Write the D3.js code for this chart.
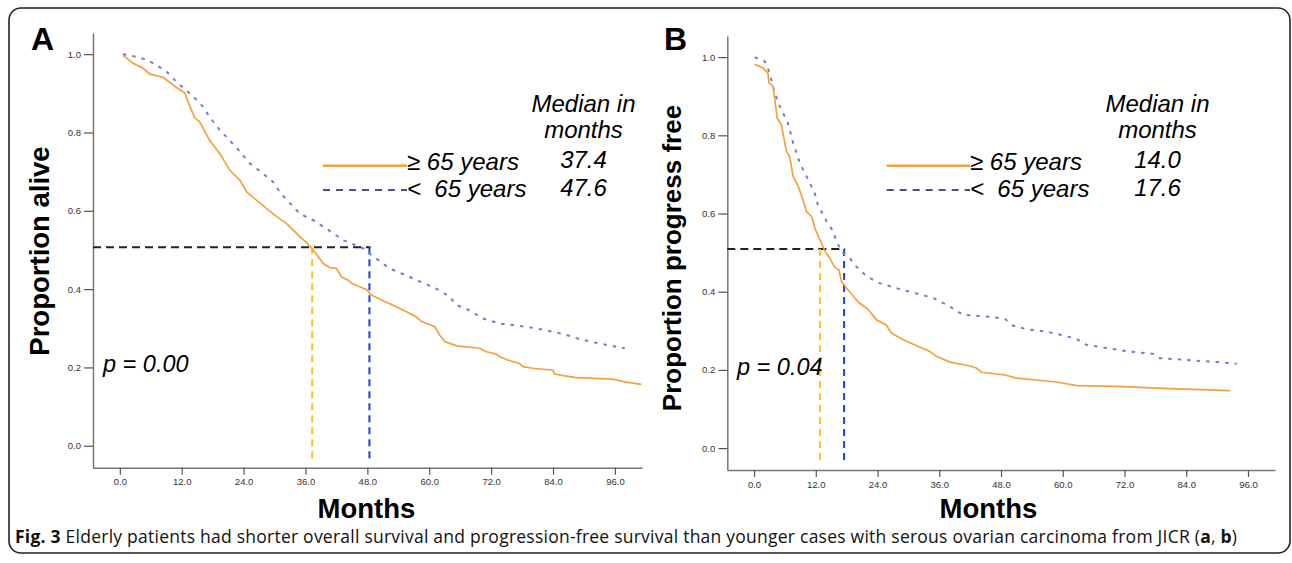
<!DOCTYPE html>
<meta charset="utf-8">
<script src="https://d3js.org/d3.v7.min.js"></script>
<style>
  body { margin: 0; background: #fff; }
  text { font-family: "Liberation Sans", Arial, sans-serif; }
</style>
<div id="chart"></div>
<script>
// ---- data ----
var monthTicks = [0, 12, 24, 36, 48, 60, 72, 84, 96];
var propTicks = [0, 0.2, 0.4, 0.6, 0.8, 1.0];

// panel A: overall survival, [month, proportion]
var osOld = [[0.6,0.997],[1.3,0.99],[2.6,0.977],[4.5,0.964],[5.8,0.949],[8.4,0.941],[11,0.915],[12.6,0.901],
  [13.6,0.866],[14.5,0.838],[15.5,0.827],[17.4,0.78],[19.4,0.746],[21.3,0.704],[23.3,0.678],[24.6,0.648],
  [26.5,0.627],[28.4,0.606],[30.4,0.585],[32.3,0.568],[34.9,0.534],[36.2,0.519],[37.5,0.5],[39.4,0.466],
  [40.7,0.455],[42,0.453],[43,0.431],[44.3,0.423],[44.9,0.415],[46.5,0.406],[47.8,0.399],[48.8,0.385],
  [50.4,0.374],[53,0.359],[55.6,0.342],[57.5,0.329],[58.5,0.317],[59.8,0.311],[61.1,0.304],[62,0.283],
  [63,0.266],[65.3,0.255],[69.8,0.249],[71.1,0.24],[73,0.234],[73.7,0.227],[75.6,0.217],[77.5,0.21],
  [78.2,0.202],[80.1,0.198],[84,0.193],[84.3,0.183],[86.6,0.178],[88.5,0.174],[95.6,0.17],[97.9,0.163],[101.1,0.157]];
var osYoung = [[0.6,1.0],[3.2,0.993],[5.2,0.986],[7.1,0.972],[9.1,0.955],[11,0.929],[13.2,0.904],[14.9,0.883],
  [16.1,0.866],[17.4,0.84],[19.4,0.806],[21.3,0.78],[23.3,0.751],[25.2,0.721],[27.8,0.695],[29.7,0.674],
  [31,0.648],[33,0.619],[34.9,0.593],[37.5,0.576],[40,0.555],[43.3,0.525],[47.2,0.504],[48.8,0.487],
  [52.3,0.453],[56.2,0.431],[59.8,0.41],[62,0.397],[64,0.38],[65.3,0.359],[67.2,0.35],[70.4,0.325],
  [73.7,0.312],[78.8,0.304],[82.7,0.295],[86.6,0.283],[89.2,0.272],[93,0.261],[97.9,0.249]];

// panel B: progression-free survival
var pfsOld = [[0.1,0.982],[1.75,0.972],[2.7,0.959],[2.9,0.934],[3.7,0.925],[4.0,0.895],[4.5,0.844],[5.3,0.827],
  [6.3,0.759],[6.9,0.746],[7.6,0.695],[8.6,0.669],[9.5,0.635],[10.2,0.605],[11.2,0.592],[11.8,0.563],
  [13.1,0.524],[13.8,0.503],[14.7,0.486],[15.7,0.462],[16.5,0.456],[17,0.426],[18,0.409],[19.6,0.384],
  [20.5,0.371],[22.2,0.354],[23.8,0.328],[25.7,0.315],[26.7,0.294],[29,0.277],[31.6,0.262],[34.2,0.247],
  [35.5,0.234],[38.1,0.22],[42,0.21],[43.2,0.205],[44.2,0.194],[48.8,0.187],[51,0.179],[58.8,0.169],
  [62.7,0.16],[70.5,0.158],[79.5,0.153],[92.5,0.147]];
var pfsYoung = [[0.1,1.0],[2.1,0.989],[3.05,0.959],[4.0,0.908],[5.0,0.874],[6.6,0.831],[7.6,0.78],[8.9,0.729],
  [10.2,0.695],[11.8,0.652],[12.4,0.622],[14.1,0.58],[15.4,0.554],[16,0.528],[17.3,0.499],[18.6,0.486],
  [19.9,0.464],[21.9,0.439],[24.4,0.422],[27.7,0.409],[32.5,0.392],[34.8,0.384],[37.4,0.367],[40.6,0.341],
  [46.5,0.335],[48.8,0.33],[50.4,0.313],[53,0.304],[56.9,0.298],[59.5,0.29],[62.7,0.279],[64.6,0.264],
  [68.5,0.256],[73,0.247],[77.6,0.241],[78.9,0.23],[83.4,0.226],[89.9,0.22],[93.8,0.216]];

var groupLabels = ["\u2265 65 years", "<  65 years"];
var mediansA = ["37.4", "47.6"];
var mediansB = ["14.0", "17.6"];
// where the median guide lines sit in the figure (months) and the 50% level
var medianLinesA = [37.3, 48.4];
var medianLinesB = [12.8, 17.5];
var halfLevelA = 0.507, halfLevelB = 0.509;

var W = 1292, H = 563;
var svg = d3.select("#chart").append("svg").attr("width", W).attr("height", H);

// outer frame
svg.append("rect").attr("x", 9).attr("y", 8).attr("width", 1281).attr("height", 545)
  .attr("rx", 12).attr("fill", "none").attr("stroke", "#222").attr("stroke-width", 1.6);

var orange = "#f5a03c", dotBlue = "#6a7fd6";

function panel(o) {
  var x = d3.scaleLinear().domain([-5.2, 101.25]).range([o.x0, o.x1]);
  var y = d3.scaleLinear().domain([-0.056, 1.054]).range([o.y1, o.y0]);
  var g = svg.append("g");

  var xa = g.append("g").attr("transform", "translate(0," + o.y1 + ")")
    .call(d3.axisBottom(x).tickValues(monthTicks).tickFormat(d3.format(".1f")).tickSize(7).tickSizeOuter(0));
  var ya = g.append("g").attr("transform", "translate(" + o.x0 + ",0)")
    .call(d3.axisLeft(y).tickValues(propTicks).tickFormat(d3.format(".1f")).tickSize(9).tickSizeOuter(0));
  [xa, ya].forEach(function (a) {
    a.select(".domain").attr("stroke", "#777").attr("stroke-width", 1.5);
    a.selectAll(".tick line").attr("stroke", "#555").attr("stroke-width", 1.2);
    a.selectAll(".tick text").attr("fill", "#333").style("font-size", "9.5px")
      .style("font-family", "'Liberation Sans', Arial, sans-serif");
  });
  xa.selectAll(".tick text").attr("y", 11);
  ya.selectAll(".tick text").attr("x", -12);

  var line = d3.line().x(function (d) { return x(d[0]); }).y(function (d) { return y(d[1]); });

  // median guides
  g.append("line").attr("x1", o.x0).attr("x2", x(o.medLines[1]) + 1)
    .attr("y1", y(o.half)).attr("y2", y(o.half))
    .attr("stroke", "#222").attr("stroke-width", 2).attr("stroke-dasharray", "8,5");
  g.append("line").attr("x1", x(o.medLines[0])).attr("x2", x(o.medLines[0]))
    .attr("y1", y(o.half)).attr("y2", y(-0.037))
    .attr("stroke", "#ffc20e").attr("stroke-width", 2).attr("stroke-dasharray", "7,5");
  g.append("line").attr("x1", x(o.medLines[1])).attr("x2", x(o.medLines[1]))
    .attr("y1", y(o.half)).attr("y2", y(-0.037))
    .attr("stroke", "#1f3de0").attr("stroke-width", 2).attr("stroke-dasharray", "7,5");

  g.append("path").datum(o.young).attr("d", line).attr("fill", "none")
    .attr("stroke", dotBlue).attr("stroke-width", 2).attr("stroke-dasharray", "3.5,6");
  g.append("path").datum(o.old).attr("d", line).attr("fill", "none")
    .attr("stroke", orange).attr("stroke-width", 1.7);

  // panel letter
  g.append("text").attr("x", o.letterX).attr("y", 50).text(o.letter)
    .style("font-size", "32px").style("font-weight", "bold");

  // axis titles
  g.append("text").attr("transform", "translate(" + o.ytX + "," + o.ytY + ") rotate(-90)")
    .attr("text-anchor", "middle").text(o.yTitle)
    .style("font-size", o.ytSize).style("font-weight", "bold");
  g.append("text").attr("x", o.mX).attr("y", 518).attr("text-anchor", "middle").text("Months")
    .style("font-size", "27.5px").style("font-weight", "bold");

  // legend
  g.append("line").attr("x1", o.lx0).attr("x2", o.lx1).attr("y1", 165.7).attr("y2", 165.7)
    .attr("stroke", orange).attr("stroke-width", 2.5);
  g.append("line").attr("x1", o.lx0).attr("x2", o.lx1).attr("y1", 190).attr("y2", 190)
    .attr("stroke", "#4b5089").attr("stroke-width", 2).attr("stroke-dasharray", "7,6");
  g.selectAll(".lab").data(groupLabels).enter().append("text")
    .attr("x", o.lx1).attr("y", function (d, i) { return i ? 197 : 170; })
    .attr("xml:space", "preserve").text(function (d) { return d; })
    .style("font-size", "24px").style("font-style", "italic");
  g.append("text").attr("x", o.medX).attr("y", 112).attr("text-anchor", "middle").text("Median in")
    .style("font-size", "24px").style("font-style", "italic");
  g.append("text").attr("x", o.medX).attr("y", 138).attr("text-anchor", "middle").text("months")
    .style("font-size", "24px").style("font-style", "italic");
  g.selectAll(".med").data(o.medians).enter().append("text")
    .attr("x", o.medX).attr("y", function (d, i) { return i ? 196 : 168; })
    .attr("text-anchor", "middle").text(function (d) { return d; })
    .style("font-size", "24px").style("font-style", "italic");

  g.append("text").attr("x", o.pX).attr("y", o.pY).attr("xml:space", "preserve").text(o.pText)
    .style("font-size", "23.5px").style("font-style", "italic");
}

panel({ x0: 93, x1: 642, y0: 33, y1: 467.7, old: osOld, young: osYoung,
  medLines: medianLinesA, half: halfLevelA, letter: "A", letterX: 31,
  yTitle: "Proportion alive", ytX: 49, ytY: 251, ytSize: "27.5px", mX: 366.5,
  lx0: 323, lx1: 407, medX: 583.5, medians: mediansA, pText: "p = 0.00", pX: 103, pY: 372 });

panel({ x0: 727.3, x1: 1275, y0: 36, y1: 470, old: pfsOld, young: pfsYoung,
  medLines: medianLinesB, half: halfLevelB, letter: "B", letterX: 664,
  yTitle: "Proportion progress free", ytX: 681, ytY: 258, ytSize: "26px", mX: 988.5,
  lx0: 886.7, lx1: 970, medX: 1157.5, medians: mediansB, pText: "p = 0.04", pX: 737, pY: 375 });

// caption
var cap = svg.append("text").attr("x", 15).attr("y", 543)
  .attr("textLength", 1222).attr("lengthAdjust", "spacing")
  .style("font-family", "'Open Sans', sans-serif").style("font-size", "17.5px").attr("fill", "#111");
cap.append("tspan").style("font-weight", "bold").text("Fig. 3");
cap.append("tspan").text(" Elderly patients had shorter overall survival and progression-free survival than younger cases with serous ovarian carcinoma from JICR (");
cap.append("tspan").style("font-weight", "bold").text("a");
cap.append("tspan").text(", ");
cap.append("tspan").style("font-weight", "bold").text("b");
cap.append("tspan").text(")");
</script>
